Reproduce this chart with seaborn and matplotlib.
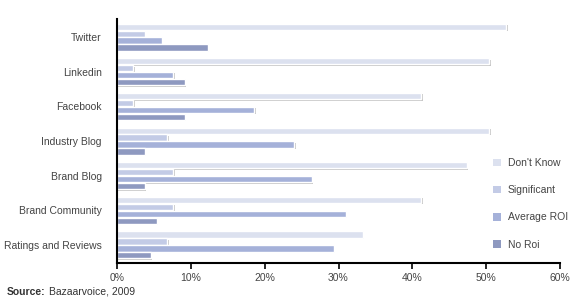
import matplotlib
matplotlib.use("Agg")
import matplotlib.pyplot as plt
import matplotlib.patheffects as pe
from matplotlib.patches import Patch
import seaborn as sns
import pandas as pd

categories = ["Twitter", "Linkedin", "Facebook", "Industry Blog", "Brand Blog",
              "Brand Community", "Ratings and Reviews"]
series = ["Don't Know", "Significant", "Average ROI", "No Roi"]
dont_know = [52.7, 50.4, 41.2, 50.4, 47.4, 41.2, 33.3]
significant = [3.8, 2.2, 2.2, 6.8, 7.6, 7.6, 6.8]
average_roi = [6.1, 7.6, 18.6, 24.0, 26.4, 31.0, 29.4]
no_roi = [12.3, 9.2, 9.2, 3.8, 3.8, 5.4, 4.6]
xticks = [0, 10, 20, 30, 40, 50, 60]
xtick_labels = ["0%", "10%", "20%", "30%", "40%", "50%", "60%"]
colors = ["#dce1ef", "#c3cbe6", "#a5b1d9", "#8e99c0"]

rows = []
for s, vals in zip(series, [dont_know, significant, average_roi, no_roi]):
    for c, v in zip(categories, vals):
        rows.append({"Category": c, "Response": s, "Value": v})
df = pd.DataFrame(rows)

sns.set_style("white")
plt.rcParams["font.family"] = ["Liberation Sans", "DejaVu Sans"]

fig = plt.figure(figsize=(5.75, 3.03), dpi=100)
ax = fig.add_axes([0.2035, 0.132, 0.7705, 0.805])

sns.barplot(data=df, y="Category", x="Value", hue="Response", order=categories,
            hue_order=series, palette=colors, orient="h", width=0.8, gap=0.1,
            ax=ax, legend=False, saturation=1)

for p in ax.patches:
    p.set_path_effects([pe.SimplePatchShadow(offset=(1.0, -1.0), shadow_rgbFace="#a0a0a0", alpha=0.6),
                        pe.Normal()])

ax.set_xlim(0, 60)
ax.set_ylim(6.52, -0.52)
ax.set_xticks(xticks)
ax.set_xticklabels(xtick_labels)
ax.set_xlabel("")
ax.set_ylabel("")
ax.tick_params(axis="x", direction="out", length=4, width=1.2, color="black",
               labelsize=7.5, labelcolor="#444444", pad=3.5, bottom=True)
ax.tick_params(axis="y", length=0, labelsize=7.5, labelcolor="#444444", pad=11)
for side in ["top", "right"]:
    ax.spines[side].set_visible(False)
for side in ["left", "bottom"]:
    ax.spines[side].set_color("black")
    ax.spines[side].set_linewidth(1.5)

handles = [Patch(facecolor=c, edgecolor="none") for c in colors]
leg = ax.legend(handles, series, loc="upper left", bbox_to_anchor=(0.848, 0.43),
                frameon=False, fontsize=7.5, labelspacing=1.65, borderpad=0,
                borderaxespad=0, handlelength=0.75, handleheight=0.75,
                handletextpad=0.7)
for t in leg.get_texts():
    t.set_color("#444444")

fig.text(7 / 575, 1 - 292 / 303, "Source:", fontsize=7.5, fontweight="bold",
         color="#333333", va="center")
fig.text(49 / 575, 1 - 292 / 303, "Bazaarvoice, 2009", fontsize=7.5,
         color="#333333", va="center")

fig.savefig("out.png", dpi=100)
